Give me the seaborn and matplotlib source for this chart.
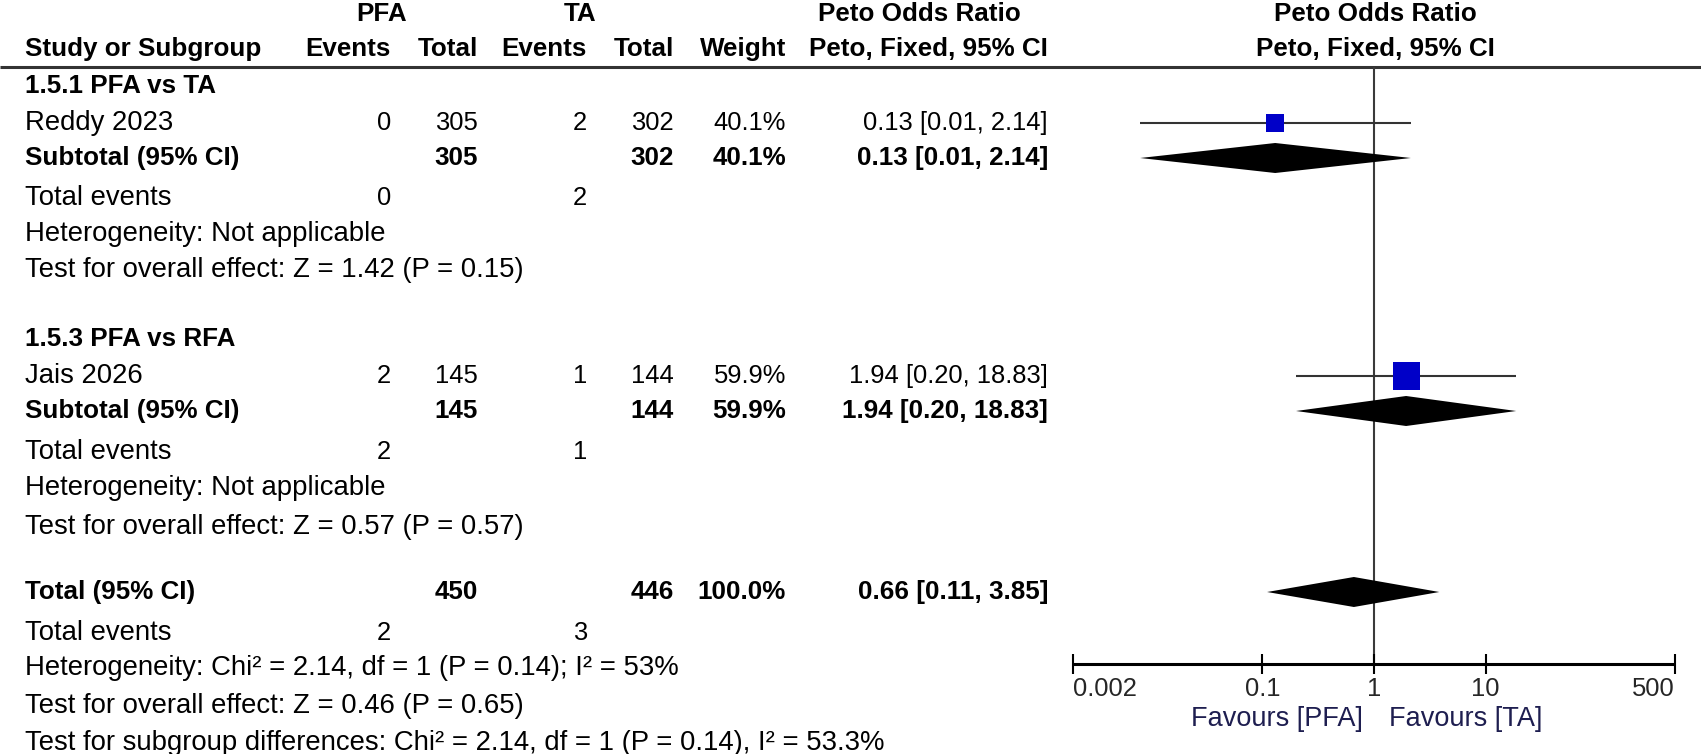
import matplotlib
matplotlib.use('Agg')
import matplotlib.pyplot as plt
import pandas as pd
import seaborn as sns

# data
groups = ['1.5.1 PFA vs TA', '1.5.3 PFA vs RFA']
studies = ['Reddy 2023', 'Jais 2026']
pfa_events = [0, 2]
pfa_total = [305, 145]
ta_events = [2, 1]
ta_total = [302, 144]
weights = [40.1, 59.9]
odds_ratio = [0.13, 1.94]
ci_low = [0.008, 0.20]   # shown rounded as 0.01
ci_high = [2.14, 18.83]
het_text = ['Heterogeneity: Not applicable', 'Heterogeneity: Not applicable']
effect_text = ['Test for overall effect: Z = 1.42 (P = 0.15)',
               'Test for overall effect: Z = 0.57 (P = 0.57)']

total_or, total_lo, total_hi = 0.66, 0.11, 3.85
total_footer = ['Heterogeneity: Chi\u00b2 = 2.14, df = 1 (P = 0.14); I\u00b2 = 53%',
                'Test for overall effect: Z = 0.46 (P = 0.65)',
                'Test for subgroup differences: Chi\u00b2 = 2.14, df = 1 (P = 0.14), I\u00b2 = 53.3%']

tick_vals = [0.002, 0.1, 1, 10, 500]
tick_labels = ['0.002', '0.1', '1', '10', '500']

sns.set_style('white')
plt.rcParams['font.family'] = ['Liberation Sans', 'DejaVu Sans']
FS_LAB = 19.8   # left-hand wording
FS_NUM = 18.4   # numbers
FS_BOLD = 18.7
W, H = 1701, 754

fig = plt.figure(figsize=(W / 100, H / 100), dpi=100)
ax = fig.add_axes([0, 0, 1, 1])
ax.set_xlim(0, W)
ax.set_ylim(H, 0)
ax.axis('off')

# column right edges (pixels)
c_pe, c_pt, c_te, c_tt, c_w, c_ci = 391, 478, 587, 674, 786, 1048


def txt(x, y, s, ha='left', bold=False, fs=None, color='black'):
    if fs is None:
        fs = FS_BOLD if bold else FS_NUM
    ax.text(x, y, s, ha=ha, va='center', fontsize=fs,
            fontweight='bold' if bold else 'normal', color=color)


def ci_str(o, lo, hi):
    return f'{o:.2f} [{lo:.2f}, {hi:.2f}]'


# headers
txt(382, 14, 'PFA', ha='center', bold=True)
txt(580, 14, 'TA', ha='center', bold=True)
txt(919, 14, 'Peto Odds Ratio', ha='center', bold=True)
txt(1375, 14, 'Peto Odds Ratio', ha='center', bold=True)
txt(25, 49, 'Study or Subgroup', bold=True)
for x, s in [(c_pe, 'Events'), (c_pt, 'Total'), (c_te, 'Events'),
             (c_tt, 'Total'), (c_w, 'Weight'), (c_ci, 'Peto, Fixed, 95% CI')]:
    txt(x, 49, s, ha='right', bold=True)
txt(1375, 49, 'Peto, Fixed, 95% CI', ha='center', bold=True)
ax.hlines(67, 0, W, color='#333333', lw=2.2)

# row layout per subgroup: title, study, subtotal, total events, het, effect
group_rows = [[86, 123, 158, 198, 234, 270], [339, 376, 411, 452, 488, 527]]
study_y = []
sub_y = []
for i, rows in enumerate(group_rows):
    txt(25, rows[0], groups[i], bold=True)
    txt(25, rows[1], studies[i], fs=FS_LAB)
    txt(c_pe, rows[1], str(pfa_events[i]), ha='right')
    txt(c_pt, rows[1], str(pfa_total[i]), ha='right')
    txt(c_te, rows[1], str(ta_events[i]), ha='right')
    txt(c_tt, rows[1], str(ta_total[i]), ha='right')
    txt(c_w, rows[1], f'{weights[i]:.1f}%', ha='right')
    txt(c_ci, rows[1], ci_str(odds_ratio[i], ci_low[i], ci_high[i]), ha='right')
    txt(25, rows[2], 'Subtotal (95% CI)', bold=True)
    txt(c_pt, rows[2], str(pfa_total[i]), ha='right', bold=True)
    txt(c_tt, rows[2], str(ta_total[i]), ha='right', bold=True)
    txt(c_w, rows[2], f'{weights[i]:.1f}%', ha='right', bold=True)
    txt(c_ci, rows[2], ci_str(odds_ratio[i], ci_low[i], ci_high[i]), ha='right', bold=True)
    txt(25, rows[3], 'Total events', fs=FS_LAB)
    txt(c_pe, rows[3], str(pfa_events[i]), ha='right')
    txt(c_te, rows[3], str(ta_events[i]), ha='right')
    txt(25, rows[4], het_text[i], fs=FS_LAB)
    txt(25, rows[5], effect_text[i], fs=FS_LAB)
    study_y.append(rows[1])
    sub_y.append(rows[2])

# overall
tot_rows = [592, 633, 668, 706, 743]
txt(25, tot_rows[0], 'Total (95% CI)', bold=True)
txt(c_pt, tot_rows[0], str(sum(pfa_total)), ha='right', bold=True)
txt(c_tt, tot_rows[0], str(sum(ta_total)), ha='right', bold=True)
txt(c_w, tot_rows[0], f'{sum(weights):.1f}%', ha='right', bold=True)
txt(c_ci, tot_rows[0], ci_str(total_or, total_lo, total_hi), ha='right', bold=True)
txt(25, tot_rows[1], 'Total events', fs=FS_LAB)
txt(c_pe, tot_rows[1], str(sum(pfa_events)), ha='right')
txt(c_te, tot_rows[1], str(sum(ta_events)), ha='right')
for y, s in zip(tot_rows[2:], total_footer):
    txt(25, y, s, fs=FS_LAB)

# forest panel on a log axis
fx0, fx1 = 1073, 1675
fa = fig.add_axes([fx0 / W, 0, (fx1 - fx0) / W, 1])
fa.patch.set_alpha(0)

axis_y = 664
df = pd.DataFrame({'or': odds_ratio, 'lo': ci_low, 'hi': ci_high,
                   'w': weights, 'y': study_y})
sns.scatterplot(data=df, x='or', y='y', size='w', sizes=(168, 378),
                size_norm=(min(weights), max(weights)), marker='s',
                color='#0000c8', linewidth=0, legend=False, ax=fa, zorder=3)
fa.set_xscale('log')
fa.set_xlim(0.002, 500)
fa.set_ylim(H, 0)
fa.axis('off')

fa.vlines(1, 67, axis_y, color='#3a3a3a', lw=1.5, clip_on=False)
fa.hlines(df['y'], df['lo'], df['hi'], color='#333333', lw=1.5, clip_on=False)

dh = 15
diamonds = [(odds_ratio[i], ci_low[i], ci_high[i], sub_y[i]) for i in range(2)]
diamonds.append((total_or, total_lo, total_hi, tot_rows[0]))
for o, lo, hi, y in diamonds:
    fa.fill([lo, o, hi, o], [y, y - dh, y, y + dh], color='black', lw=0,
            zorder=4, clip_on=False)

fa.hlines(axis_y, 0.002, 500, color='black', lw=2.2, clip_on=False)
fa.vlines(tick_vals, axis_y - 10, axis_y + 10, color='black', lw=1.5, clip_on=False)
for v, lab in zip(tick_vals, tick_labels):
    ha = 'left' if v == tick_vals[0] else ('right' if v == tick_vals[-1] else 'center')
    fa.text(v, 689, lab, ha=ha, va='center', fontsize=FS_NUM, clip_on=False)
fa.text(0.8, 719, 'Favours [PFA]', ha='right', va='center', fontsize=19.5,
        color='#1e1e50', clip_on=False)
fa.text(1.35, 719, 'Favours [TA]', ha='left', va='center', fontsize=19.5,
        color='#1e1e50', clip_on=False)

fig.savefig('out.png', dpi=100, facecolor='white')
